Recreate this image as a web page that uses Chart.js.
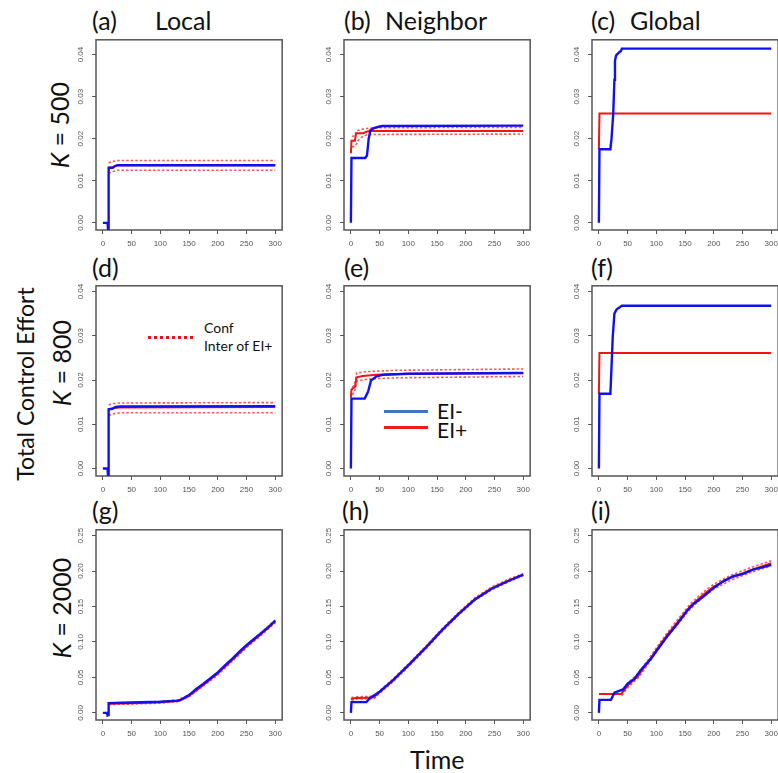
<!DOCTYPE html>
<html>
<head>
<meta charset="utf-8">
<script src="https://cdn.jsdelivr.net/npm/chart.js@4.4.0/dist/chart.umd.min.js"></script>
<style>
  body { margin: 0; background: #fff; }
  #page { position: relative; width: 778px; height: 773px; overflow: hidden; font-family: Lato, 'Open Sans', sans-serif; color: #111; }
  #page canvas { position: absolute; }
  .lab { position: absolute; white-space: nowrap; line-height: 1; transform: translateY(-50%); }
  .rot { position: absolute; white-space: nowrap; line-height: 1; transform: translate(-50%, -50%) rotate(-90deg); }
  .seg { position: absolute; }
  .t { font-size: 25px; }
</style>
</head>
<body>
<div id="page">
  <div class="lab t" style="left:92px;top:20px">(a)</div>
  <div class="lab t" style="left:155px;top:20px">Local</div>
  <div class="lab t" style="left:344px;top:20px">(b)</div>
  <div class="lab t" style="left:385px;top:20px">Neighbor</div>
  <div class="lab t" style="left:591px;top:20px">(c)</div>
  <div class="lab t" style="left:630px;top:20px">Global</div>
  <div class="lab t" style="left:92px;top:267px">(d)</div>
  <div class="lab t" style="left:344px;top:267px">(e)</div>
  <div class="lab t" style="left:591px;top:267px">(f)</div>
  <div class="lab t" style="left:92px;top:510px">(g)</div>
  <div class="lab t" style="left:342px;top:510px">(h)</div>
  <div class="lab t" style="left:591px;top:510px">(i)</div>

  <div class="rot" style="left:59px;top:125px;font-size:25px"><i>K</i> = 500</div>
  <div class="rot" style="left:61px;top:363px;font-size:25px"><i>K</i> = 800</div>
  <div class="rot" style="left:61px;top:608px;font-size:25px"><i>K</i> = 2000</div>
  <div class="rot" style="left:25px;top:384px;font-size:23px">Total Control Effort</div>
  <div class="lab" style="left:410px;top:759px;font-size:25px">Time</div>

  <!-- legend (d) -->
  <div class="seg" style="left:148px;top:336px;width:45px;border-top:3px dotted #e8141c"></div>
  <div class="lab" style="left:204px;top:328px;font-size:14px">Conf</div>
  <div class="lab" style="left:204px;top:346px;font-size:14px">Inter of EI+</div>
  <!-- legend (e) -->
  <div class="seg" style="left:384px;top:410px;width:44px;height:3px;background:#4472c4"></div>
  <div class="seg" style="left:384px;top:426px;width:44px;height:3px;background:#ee1c1c"></div>
  <div class="lab" style="left:437px;top:410px;font-size:21px">EI-</div>
  <div class="lab" style="left:437px;top:429px;font-size:21px">EI+</div>
</div>

<script>
// tick labels
const timeTicks = [0, 50, 100, 150, 200, 250, 300];
const effortTicksLow = [0, 0.01, 0.02, 0.03, 0.04];
const effortTicksHigh = [0, 0.05, 0.10, 0.15, 0.20, 0.25];

// K = 500 : [time, effort]
const localK500Minus = [[0,0],[8,0],[9,-0.0016],[10,0.0131],[17,0.0131],[21,0.0135],[26,0.0137],[300,0.0137]];
const localK500Plus  = [[10,0.0131],[17,0.0132],[25,0.0137],[300,0.0137]];
const localK500Upper = [[10,0.0142],[15,0.0145],[25,0.0148],[300,0.0148]];
const localK500Lower = [[10,0.0117],[15,0.0121],[25,0.0125],[300,0.0125]];

const nbrK500Minus = [[0,0],[1,0.0154],[25,0.0154],[28,0.0160],[31,0.0200],[34,0.0220],[40,0.0225],[50,0.0229],[55,0.0230],[300,0.0231]];
const nbrK500Plus  = [[0,0.0165],[1,0.0195],[7,0.0195],[9,0.0213],[22,0.0213],[26,0.0216],[32,0.0218],[300,0.0218]];
const nbrK500Upper = [[2,0.0205],[8,0.0208],[10,0.0219],[25,0.0224],[40,0.0226],[300,0.0227]];
const nbrK500Lower = [[2,0.0180],[8,0.0183],[12,0.0195],[20,0.0205],[30,0.0210],[300,0.0211]];

const globK500Minus = [[0,0],[1,0.0175],[20,0.0175],[22,0.0200],[25,0.0260],[27,0.0340],[28,0.0385],[30,0.0398],[35,0.0405],[38,0.0408],[40,0.0414],[300,0.0414]];
const globK500Plus  = [[0,0.0175],[1,0.0260],[300,0.0260]];

// K = 800
const localK800Minus = [[0,0],[8,0],[9,-0.0016],[10,0.0134],[17,0.0135],[22,0.0139],[30,0.0140],[300,0.0141]];
const localK800Plus  = [[10,0.0134],[20,0.0137],[30,0.0138],[300,0.0139]];
const localK800Upper = [[10,0.0144],[20,0.0147],[30,0.0148],[300,0.0149]];
const localK800Lower = [[10,0.0120],[20,0.0124],[30,0.0126],[300,0.0126]];

const nbrK800Minus = [[0,0],[1,0.0158],[24,0.0158],[30,0.0174],[35,0.0199],[44,0.0208],[56,0.0212],[100,0.0214],[300,0.0216]];
const nbrK800Plus  = [[0,0.0160],[1,0.0178],[4,0.0182],[7,0.0184],[10,0.0206],[21,0.0209],[44,0.0212],[100,0.0214],[300,0.0216]];
const nbrK800Upper = [[2,0.0184],[6,0.0188],[10,0.0216],[28,0.0219],[80,0.0222],[300,0.0225]];
const nbrK800Lower = [[2,0.0167],[6,0.0172],[11,0.0198],[30,0.0202],[80,0.0205],[300,0.0208]];

const globK800Minus = [[0,0],[1,0.0169],[20,0.0169],[22,0.0230],[24,0.0295],[27,0.0350],[30,0.0358],[33,0.0362],[37,0.0365],[40,0.0368],[300,0.0368]];
const globK800Plus  = [[0,0.0169],[1,0.0261],[300,0.0261]];

// K = 2000
const localK2000Minus = [[0,0],[7,0],[8,-0.0035],[9,-0.003],[10,0.0138],[50,0.0145],[100,0.0156],[130,0.0172],[134,0.0178],[150,0.025],[162,0.0335],[175,0.041],[190,0.0505],[200,0.057],[218,0.071],[225,0.076],[240,0.088],[250,0.0955],[262,0.1035],[275,0.112],[288,0.121],[300,0.130]];
const localK2000Plus  = [[10,0.0128],[50,0.0135],[100,0.0148],[130,0.0168],[134,0.0174],[150,0.024],[175,0.0395],[200,0.0555],[225,0.0745],[250,0.094],[275,0.111],[300,0.129]];
const localK2000Upper = [[10,0.0140],[50,0.0147],[100,0.0160],[130,0.0180],[150,0.0255],[175,0.0410],[200,0.0575],[225,0.0765],[250,0.0960],[275,0.1130],[300,0.1310]];
const localK2000Lower = [[10,0.0118],[50,0.0124],[100,0.0137],[130,0.0158],[150,0.0225],[175,0.0380],[200,0.0535],[225,0.0725],[250,0.0920],[275,0.1090],[300,0.1270]];

const nbrK2000Minus = [[0,0],[1,0.0151],[27,0.0151],[33,0.0206],[50,0.0298],[73,0.0459],[102,0.0688],[131,0.0927],[159,0.117],[188,0.140],[216,0.160],[245,0.175],[274,0.186],[300,0.195]];
const nbrK2000Plus  = [[0,0.0193],[5,0.0205],[10,0.0210],[25,0.0212],[40,0.0218],[50,0.0295],[73,0.0455],[102,0.0685],[131,0.0925],[159,0.1170],[188,0.1400],[216,0.1605],[245,0.1755],[274,0.1865],[300,0.1950]];
const nbrK2000Upper = [[1,0.0215],[10,0.0225],[40,0.0235],[50,0.0315],[73,0.0475],[102,0.0705],[131,0.0945],[159,0.1190],[188,0.1420],[216,0.1625],[245,0.1775],[274,0.1885],[300,0.1965]];
const nbrK2000Lower = [[1,0.0175],[10,0.0195],[40,0.0200],[50,0.0275],[73,0.0435],[102,0.0665],[131,0.0905],[159,0.1150],[188,0.1380],[216,0.1585],[245,0.1735],[274,0.1845],[300,0.1935]];

const globK2000Minus = [[0,0],[1,0.0183],[21,0.0183],[27,0.0284],[42,0.0330],[50,0.0413],[62,0.048],[73,0.0606],[90,0.0757],[102,0.0894],[119,0.108],[137,0.126],[154,0.1445],[165,0.1537],[182,0.164],[200,0.1766],[217,0.1858],[234,0.1927],[251,0.196],[268,0.202],[286,0.2055],[300,0.2087]];
const globK2000Plus  = [[0,0.0266],[39,0.0266],[50,0.0385],[68,0.052],[85,0.071],[102,0.0908],[119,0.110],[137,0.128],[160,0.151],[182,0.167],[200,0.178],[228,0.190],[263,0.201],[300,0.211]];
const globK2000Upper = [[40,0.0290],[50,0.0415],[68,0.0555],[85,0.0740],[102,0.0940],[119,0.1130],[137,0.1315],[160,0.1545],[182,0.1705],[200,0.1815],[228,0.1935],[263,0.2045],[300,0.2145]];
const globK2000Lower = [[40,0.0245],[50,0.0355],[68,0.0490],[85,0.0680],[102,0.0880],[119,0.1070],[137,0.1245],[160,0.1475],[182,0.1635],[200,0.1745],[228,0.1865],[263,0.1975],[300,0.2075]];

// layout of the 3x3 grid (plot box corners)
const colLeft = [96, 344, 592];
const rowTop = [34, 280, 524];
const boxW = 189, boxH = 196;
const yAxisW = 34, xAxisH = 22, pad = 2;
const rowRange = [[-0.0017, 0.0435], [-0.0017, 0.0413], [-0.0101, 0.2582]];
const rowTicks = [effortTicksLow, effortTicksLow, effortTicksHigh];

const panels = [
  { col: 0, row: 0, minus: localK500Minus, plus: localK500Plus, upper: localK500Upper, lower: localK500Lower },
  { col: 1, row: 0, minus: nbrK500Minus, plus: nbrK500Plus, upper: nbrK500Upper, lower: nbrK500Lower },
  { col: 2, row: 0, minus: globK500Minus, plus: globK500Plus },
  { col: 0, row: 1, minus: localK800Minus, plus: localK800Plus, upper: localK800Upper, lower: localK800Lower },
  { col: 1, row: 1, minus: nbrK800Minus, plus: nbrK800Plus, upper: nbrK800Upper, lower: nbrK800Lower },
  { col: 2, row: 1, minus: globK800Minus, plus: globK800Plus },
  { col: 0, row: 2, minus: localK2000Minus, plus: localK2000Plus, upper: localK2000Upper, lower: localK2000Lower },
  { col: 1, row: 2, minus: nbrK2000Minus, plus: nbrK2000Plus, upper: nbrK2000Upper, lower: nbrK2000Lower },
  { col: 2, row: 2, minus: globK2000Minus, plus: globK2000Plus, upper: globK2000Upper, lower: globK2000Lower }
];

const BLUE = '#1010f0';
const RED = '#f01414';
const CI_RED = 'rgba(245, 60, 60, 0.85)';
const AXIS = '#555';

// box around the plot region, like R's box()
const frame = {
  id: 'frame',
  beforeDatasetsDraw(chart) {
    const { ctx, chartArea: a } = chart;
    ctx.save();
    ctx.strokeStyle = AXIS;
    ctx.lineWidth = 1.5;
    ctx.strokeRect(a.left, a.top, a.right - a.left, a.bottom - a.top);
    ctx.restore();
  }
};

function line(data, color, width, dash) {
  return { data, borderColor: color, borderWidth: width, borderDash: dash || [], pointRadius: 0, tension: 0, fill: false };
}

const page = document.getElementById('page');

panels.forEach(p => {
  const canvas = document.createElement('canvas');
  canvas.width = yAxisW + boxW + pad;
  canvas.height = pad + boxH + xAxisH;
  canvas.style.left = (colLeft[p.col] - yAxisW) + 'px';
  canvas.style.top = (rowTop[p.row] - pad) + 'px';
  page.appendChild(canvas);

  // first dataset is drawn on top
  const datasets = [line(p.minus, BLUE, 2.4), line(p.plus, RED, 2)];
  if (p.upper) datasets.push(line(p.upper, CI_RED, 1.6, [2.5, 2]));
  if (p.lower) datasets.push(line(p.lower, CI_RED, 1.6, [2.5, 2]));

  const [yMin, yMax] = rowRange[p.row];
  const yTicks = rowTicks[p.row];

  new Chart(canvas.getContext('2d'), {
    type: 'line',
    data: { datasets },
    plugins: [frame],
    options: {
      responsive: false,
      animation: false,
      events: [],
      layout: { padding: { top: pad, right: pad, left: 0, bottom: 0 } },
      plugins: { legend: { display: false }, tooltip: { enabled: false } },
      scales: {
        x: {
          type: 'linear', min: -12, max: 312,
          afterBuildTicks: s => { s.ticks = timeTicks.map(v => ({ value: v })); },
          afterFit: s => { s.height = xAxisH; },
          grid: { drawOnChartArea: false, drawTicks: true, tickLength: 4, color: AXIS },
          border: { display: false },
          ticks: { autoSkip: false, maxRotation: 0, padding: 5, color: '#555', font: { size: 8, family: 'Liberation Sans' },
                   callback: v => String(v) }
        },
        y: {
          type: 'linear', min: yMin, max: yMax,
          afterBuildTicks: s => { s.ticks = yTicks.map(v => ({ value: v })); },
          afterFit: s => { s.width = yAxisW; },
          grid: { drawOnChartArea: false, drawTicks: true, tickLength: 4, color: AXIS },
          border: { display: false },
          ticks: { autoSkip: false, minRotation: 90, maxRotation: 90, crossAlign: 'center', padding: 3,
                   color: '#555', font: { size: 8, family: 'Liberation Sans' },
                   callback: v => v.toFixed(2) }
        }
      }
    }
  });
});
</script>
</body>
</html>
